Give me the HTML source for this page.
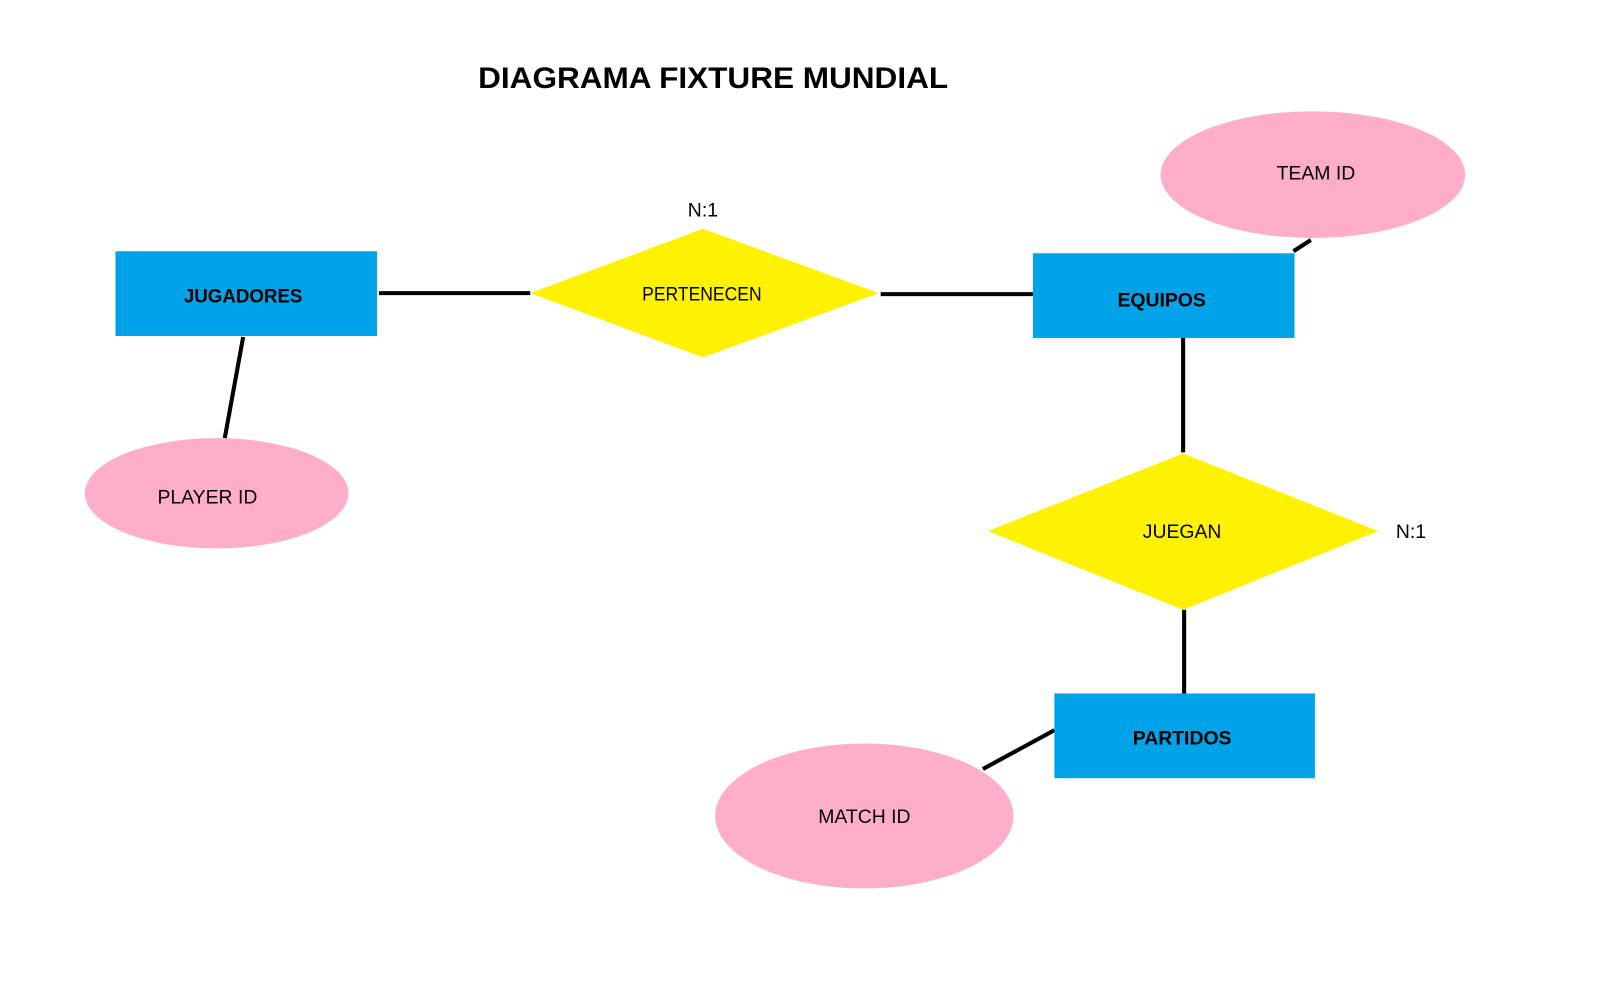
<!DOCTYPE html>
<html><head><meta charset="utf-8"><style>
html,body{margin:0;padding:0;background:#fff;width:1602px;height:1008px;overflow:hidden}
svg{display:block}
text{font-family:"Liberation Sans",sans-serif;fill:#000}
</style></head><body>
<svg width="1602" height="1008" viewBox="0 0 1568 987" preserveAspectRatio="none">
<rect width="1568" height="987" fill="#fff"/>
<text x="698" y="86" font-size="29" font-weight="bold" text-anchor="middle" textLength="460" lengthAdjust="spacingAndGlyphs">DIAGRAMA FIXTURE MUNDIAL</text>
<g stroke="#000" stroke-width="4" fill="none">
<line x1="371" y1="287" x2="519" y2="287"/>
<line x1="862" y1="288" x2="1011" y2="288"/>
<line x1="1266" y1="246" x2="1283" y2="235"/>
<line x1="1158" y1="331" x2="1158" y2="443"/>
<line x1="1159" y1="597" x2="1159" y2="680"/>
<line x1="1032" y1="715" x2="962" y2="753"/>
<line x1="238" y1="330" x2="220" y2="429"/>
</g>
<rect x="113" y="246" width="256" height="83" fill="#00a2e8"/>
<rect x="1011" y="248" width="256" height="83" fill="#00a2e8"/>
<rect x="1032" y="679" width="255" height="83" fill="#00a2e8"/>
<polygon points="519,287 688,224 860,287 688,350" fill="#fff200"/>
<polygon points="967,520 1158,444 1349,520 1158,597" fill="#fff200"/>
<ellipse cx="1285" cy="171" rx="149" ry="62" fill="#ffaec9"/>
<ellipse cx="846" cy="799" rx="146" ry="71" fill="#ffaec9"/>
<ellipse cx="212" cy="483" rx="129" ry="54" fill="#ffaec9"/>
<g font-size="19" text-anchor="middle">
<text x="238" y="296" font-weight="bold" textLength="116" lengthAdjust="spacingAndGlyphs">JUGADORES</text>
<text x="1137" y="300" font-weight="bold">EQUIPOS</text>
<text x="1157" y="729" font-weight="bold">PARTIDOS</text>
<text x="687" y="294" textLength="117" lengthAdjust="spacingAndGlyphs">PERTENECEN</text>
<text x="1157" y="527">JUEGAN</text>
<text x="1288" y="176">TEAM ID</text>
<text x="846" y="806">MATCH ID</text>
<text x="203" y="493">PLAYER ID</text>
<text x="688" y="212">N:1</text>
<text x="1381" y="527">N:1</text>
</g>
</svg>
</body></html>
